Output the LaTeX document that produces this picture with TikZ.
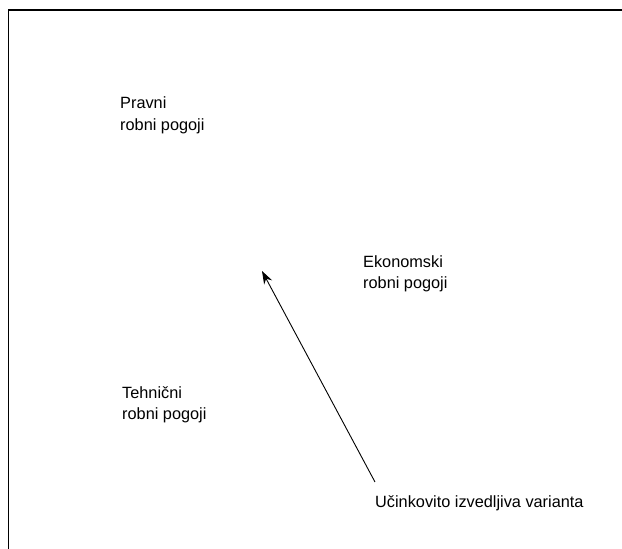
\documentclass[tikz,border=0pt]{standalone}
\usepackage{fontspec}
\setmainfont{Liberation Sans}
\usetikzlibrary{arrows.meta}
\begin{document}
\begin{tikzpicture}[x=1pt,y=1pt,
  lbl/.style={font=\fontsize{16.3}{21.5}\selectfont, align=left, inner sep=0pt, anchor=base west},
  frameline/.style={line width=1.4pt},
  arr/.style={line width=0.9pt, -{Stealth[length=13pt,width=9pt]}}]
\useasboundingbox (0,0) rectangle (622,549);
\draw[frameline] (8.5,0) -- (8.5,539) -- (622,539);
\node[lbl] (pravni) at (120,418.5) {Pravni\\robni pogoji};
\node[lbl] (ekon) at (363,260) {Ekonomski\\robni pogoji};
\node[lbl] (tehn) at (122,129) {Tehnični\\robni pogoji};
\node[lbl] (var) at (375,41) {Učinkovito izvedljiva varianta};
\coordinate (start) at (375,67);
\coordinate (tip) at (262,278);
\draw[arr] (start) -- (tip);
\end{tikzpicture}
\end{document}
